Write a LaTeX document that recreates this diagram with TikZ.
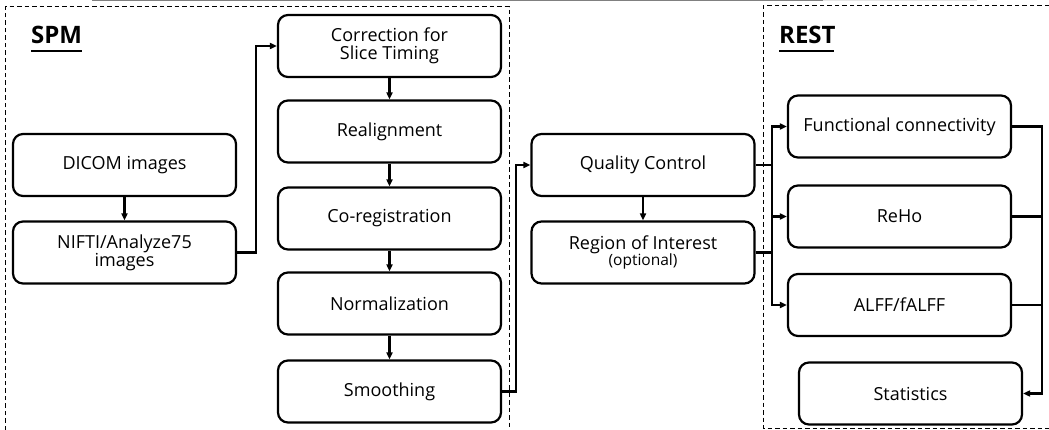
\documentclass[tikz,border=0pt]{standalone}
\usepackage{fontspec}
\setmainfont{Open Sans}
\usetikzlibrary{arrows.meta,positioning}

\begin{document}
\begin{tikzpicture}[x=1pt,y=-1pt]

    \tikzset{
      procbox/.style={
        draw,
        line width=2.2pt,
        rounded corners=10pt,
        minimum width=223pt,
        minimum height=62pt,
        align=center,
        inner sep=2pt,
        font=\fontsize{18}{21}\selectfont,
      },
      flow/.style={
        line width=2.2pt,
        -{Triangle[length=7pt,width=6pt]},
      },
      wire/.style={line width=2.2pt},
      frame/.style={line width=1pt,dash pattern=on 4.5pt off 3pt},
      title/.style={font=\fontsize{24}{27}\selectfont\bfseries,anchor=base west,inner sep=0pt},
    }
    \useasboundingbox (0,0) rectangle (1049,430);
    % frames
    \draw[gray,line width=1pt] (92,0.5)--(823,0.5);
    \draw[gray!20,line width=1pt] (823,0.5)--(977,0.5);
	\draw[frame] (5,430)--(5,7)--(509,7)--(509,430);
	\draw[frame] (1049,6)--(763,6)--(763,428)--(1049,428);
	\node[title] (spm) at (31,44) {SPM};
	\node[title] (rest) at (779,44) {REST};
	\draw[line width=2pt] (spm.base west)++(0,7) -- ++(51,0);
	\draw[line width=2pt] (rest.base west)++(0,7) -- ++(55,0);
	% SPM
	\node[procbox] (dicom) at (124.5,165) {DICOM images};
	\node[procbox] (nifti) at (124.5,252.5) {NIFTI/Analyze75\\[-3pt]images};
	\node[procbox] (corr) at (389.5,46) {Correction for\\[-3pt]Slice Timing};
	\node[procbox] (realign) at (389.5,131.5) {Realignment};
	\node[procbox] (coreg) at (389.5,218.5) {Co-registration};
	\node[procbox] (norm) at (389.5,303.5) {Normalization};
	\node[procbox] (smooth) at (389.5,391.5) {Smoothing};
	% middle
	\node[procbox] (qc) at (643,165) {Quality Control};
	\node[procbox] (roi) at (643,252.5) {Region of Interest\\[-5pt]{\fontsize{15.5}{17}\selectfont(optional)}};
	% REST
	\node[procbox] (fc) at (899.5,126.5) {Functional connectivity};
	\node[procbox] (reho) at (899.5,216.5) {ReHo};
	\node[procbox] (alff) at (899.5,305) {ALFF/fALFF};
	\node[procbox] (stats) at (910.5,393.5) {Statistics};
	\coordinate (busL) at (772,0);
	\coordinate (busR) at (1042,0);

	\draw[flow] (dicom) -- (nifti);
	\draw[flow] (nifti.east) -- ++(19,0) |- (corr.west);
	\draw[flow] (corr) -- (realign);
	\draw[flow] (realign) -- (coreg);
	\draw[flow] (coreg) -- (norm);
	\draw[flow] (norm) -- (smooth);
	\draw[flow] (smooth.east) -- ++(14,0) |- (qc.west);
	\draw[flow] (qc) -- (roi);
	\draw[wire] (qc.east) -- (qc.east -| busL);
	\draw[wire] (roi.east) -- (roi.east -| busL);
	\draw[flow] (qc.east -| busL) |- (fc.west);
	\draw[flow] (qc.east -| busL) |- (alff.west);
	\draw[flow] (busL |- reho.west) -- (reho.west);
	\draw[wire] (reho.east) -- (reho.east -| busR);
	\draw[wire] (alff.east) -- (alff.east -| busR);
	\draw[flow] (fc.east) -| (busR |- stats.east) -- (stats.east);

\end{tikzpicture}
\end{document}
